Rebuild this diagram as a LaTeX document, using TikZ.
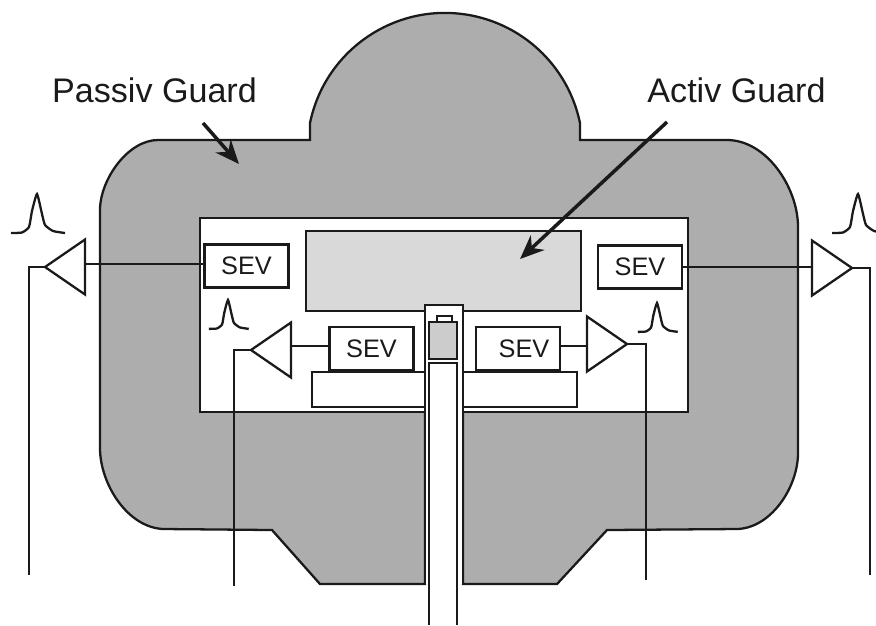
\documentclass[tikz,border=0pt]{standalone}
\usepackage{fontspec}
\setmainfont{Liberation Sans}
\usetikzlibrary{shapes.geometric,arrows.meta}
\definecolor{GuardGray}{HTML}{ADADAD}
\definecolor{ActivGray}{HTML}{D9D9D9}
\definecolor{CellGray}{HTML}{CCCCCC}
\definecolor{Ink}{HTML}{1A1A1A}
\tikzset{
  sev box/.style={draw=Ink,fill=white,minimum width=.84cm,minimum height=.43cm,
    inner sep=0pt,outer sep=0pt,font=\fontsize{7.2}{8}\selectfont,text=Ink},
  amp left/.style={draw=Ink,fill=white,isosceles triangle,isosceles triangle stretches,
    shape border rotate=180,minimum width=.55cm,minimum height=.40cm,
    inner sep=0pt,outer sep=0pt},
  amp right/.style={amp left,shape border rotate=0},
  guard label/.style={font=\fontsize{9.7}{11}\selectfont,text=Ink,inner sep=0pt},
  guard arrow/.style={-{Stealth[length=.24cm,width=.2cm]},line width=1pt,draw=Ink},
  pulse/.pic={\draw[Ink] plot[smooth,tension=.3] coordinates
    {(-.26,-.39) (-.15,-.385) (-.08,-.33) (-.05,-.17) (0,0) (.05,-.2) (.08,-.31) (.16,-.37) (.28,-.39)};}
}
\begin{document}
\begin{tikzpicture}[line width=.65pt]
  \useasboundingbox (0,0) rectangle (8.76,6.25);
  \filldraw[fill=GuardGray,draw=Ink] (3.10,4.85) -- (3.10,5.02)
    arc[start angle=168.4,end angle=11.6,radius=1.378] -- (5.80,4.85)
    -- (7.27,4.85) to[out=0,in=90,looseness=.9] (7.98,3.98) -- (7.98,1.72) to[out=-90,in=0,looseness=.9] (7.36,.96)
    -- (6.07,.95) -- (5.57,.41) -- (4.63,.41) -- (4.63,3.20) -- (4.25,3.20) -- (4.25,.41)
    -- (3.20,.41) -- (2.72,.95) -- (1.65,.96) to[out=180,in=-90,looseness=.9] (1.00,1.77)
    -- (1.00,4.15) to[out=90,in=180,looseness=.85] (1.58,4.85) -- cycle;
  \filldraw[fill=white,draw=Ink] (2.00,2.13) rectangle (6.88,4.07);
  \node[draw=Ink,fill=ActivGray,minimum width=2.75cm,minimum height=.80cm,inner sep=0pt,outer sep=0pt]
    (activBox) at (4.435,3.54) {};
  \node[draw=Ink,fill=white,minimum width=2.65cm,minimum height=.35cm,inner sep=0pt,outer sep=0pt]
    (basePlate) at (4.445,2.355) {};
  \fill[white] (4.25,.41) rectangle (4.63,3.20);
  \draw[Ink] (4.25,.41) -- (4.25,3.20) -- (4.63,3.20) -- (4.63,.41);
  \draw[Ink] (4.29,0) -- (4.29,2.62) -- (4.57,2.62) -- (4.57,0);
  \filldraw[fill=CellGray,draw=Ink] (4.29,2.66) rectangle (4.57,3.03);
  \filldraw[fill=white,draw=Ink] (4.37,3.03) rectangle (4.52,3.09);

  \node[sev box] (sevOuterL) at (2.465,3.59) {SEV};
  \node[sev box] (sevOuterR) at (6.40,3.58) {SEV};
  \node[sev box] (sevInnerL) at (3.715,2.765) {SEV};
  \node[sev box] (sevInnerR) at (5.18,2.765) {\hspace{.12cm}SEV};

  \node[amp left,anchor=apex] (ampOuterL) at (.45,3.58) {};
  \node[amp right,anchor=apex] (ampOuterR) at (8.52,3.57) {};
  \node[amp left,anchor=apex] (ampInnerL) at (2.51,2.75) {};
  \node[amp right,anchor=apex] (ampInnerR) at (6.27,2.81) {};

  \coordinate (leadOuterL) at (.29,.50);
  \coordinate (leadOuterR) at (8.70,.50);
  \coordinate (leadInnerL) at (2.34,.39);
  \coordinate (leadInnerR) at (6.46,.45);

  \draw[Ink] (sevOuterL.177) -- (sevOuterL.177 -| ampOuterL.lower side);
  \draw[Ink] (sevOuterR.east) -- (sevOuterR.east -| ampOuterR.lower side);
  \draw[Ink] (sevInnerL.177) -- (sevInnerL.177 -| ampInnerL.lower side);
  \draw[Ink] (sevInnerR.3) -- (sevInnerR.3 -| ampInnerR.lower side);

  \draw[Ink] (ampOuterL.apex) -| (leadOuterL);
  \draw[Ink] (ampOuterR.apex) -| (leadOuterR);
  \draw[Ink] (ampInnerL.apex) -| (leadInnerL);
  \draw[Ink] (ampInnerR.apex) -| (leadInnerR);

  \pic at (.37,4.31) {pulse};
  \pic at (8.58,4.31) {pulse};
  \pic[scale=.74] at (2.28,3.25) {pulse};
  \pic[scale=.74] at (6.57,3.22) {pulse};

  \node[guard label] (passivLabel) at (1.545,5.35) {Passiv Guard};
  \node[guard label] (activLabel) at (7.365,5.35) {Activ Guard};

  \coordinate (passivTail) at (2.03,5.02);
  \coordinate (passivTip) at (2.39,4.61);
  \coordinate (activTail) at (6.67,5.03);
  \coordinate (activTip) at (5.20,3.66);
  \draw[guard arrow] (passivTail) -- (passivTip);
  \draw[guard arrow] (activTail) -- (activTip);
\end{tikzpicture}
\end{document}
